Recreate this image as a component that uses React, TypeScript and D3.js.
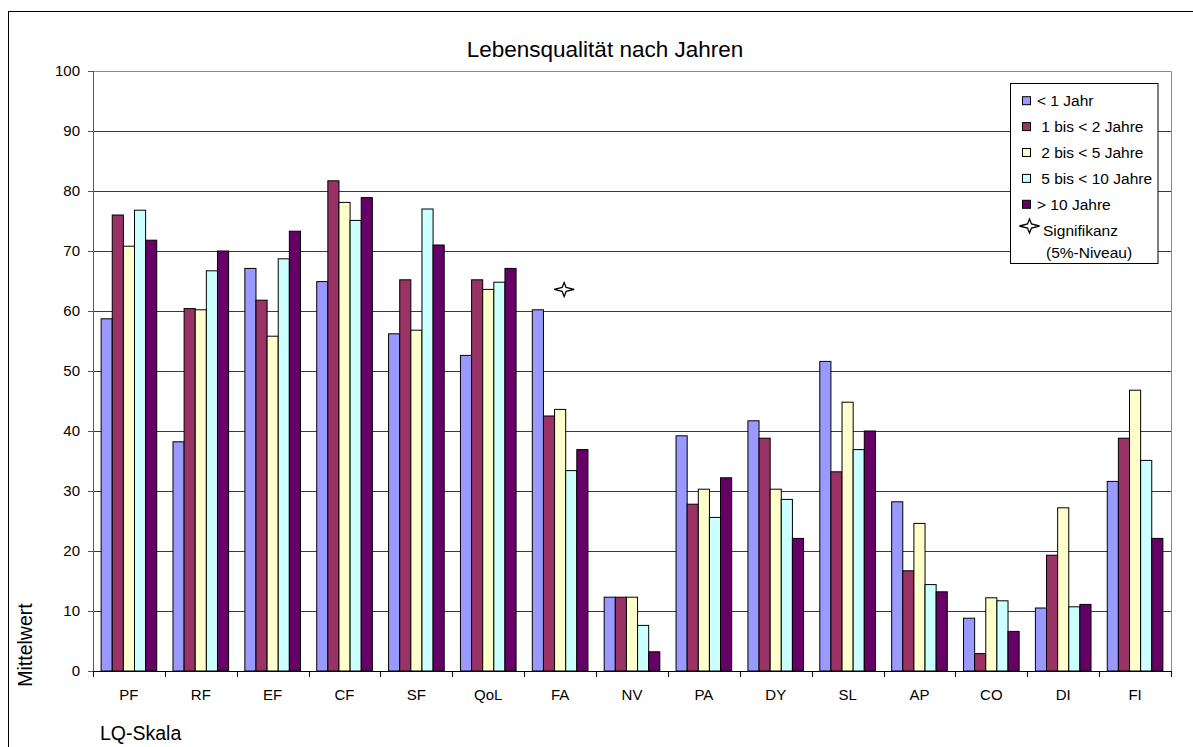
import React from "react";
import * as d3 from "d3";

// LQ scales (x categories)
const categories = ["PF", "RF", "EF", "CF", "SF", "QoL", "FA", "NV", "PA", "DY", "SL", "AP", "CO", "DI", "FI"];

// mean values per duration group
const lessThan1 = [58.7, 38.2, 67.1, 64.9, 56.2, 52.6, 60.2, 12.3, 39.2, 41.7, 51.6, 28.2, 8.8, 10.5, 31.6];
const from1to2 = [76.0, 60.4, 61.8, 81.7, 65.2, 65.2, 42.5, 12.3, 27.8, 38.8, 33.2, 16.7, 2.9, 19.3, 38.8];
const from2to5 = [70.8, 60.2, 55.8, 78.1, 56.8, 63.6, 43.6, 12.3, 30.3, 30.3, 44.8, 24.6, 12.2, 27.2, 46.8];
const from5to10 = [76.8, 66.7, 68.7, 75.1, 77.0, 64.8, 33.4, 7.6, 25.6, 28.6, 36.9, 14.4, 11.7, 10.7, 35.1];
const moreThan10 = [71.8, 70.0, 73.3, 78.9, 71.0, 67.1, 36.9, 3.2, 32.2, 22.1, 40.0, 13.2, 6.6, 11.1, 22.1];

const seriesNames = ["< 1 Jahr", " 1 bis < 2 Jahre", " 2 bis < 5 Jahre", " 5 bis < 10 Jahre", "> 10 Jahre"];
const seriesColors = ["#9999FF", "#993366", "#FFFFCC", "#CCFFFF", "#660066"];
const seriesValues = [lessThan1, from1to2, from2to5, from5to10, moreThan10];

// significance markers (5% level)
const sigCategories = ["FA"];
const sigValues = [63.6];

const yTicks = [0, 10, 20, 30, 40, 50, 60, 70, 80, 90, 100];

const W = 1193;
const H = 747;
const plot = { left: 93, right: 1171, top: 71, bottom: 671 };
const font = "'Liberation Sans', Arial, sans-serif";

// four pointed star, horizontal arms a bit longer
const starPath = "M-10,0 L-2,-2 L0,-7 L2,-2 L10,0 L2,2 L0,7 L-2,2 Z";

export default function App() {
  const x0 = d3.scaleBand<string>().domain(categories).range([plot.left, plot.right]).padding(0);
  const x1 = d3
    .scaleBand<number>()
    .domain(d3.range(seriesNames.length))
    .range([0, x0.bandwidth()])
    .paddingInner(0)
    .paddingOuter(0.73);
  const y = d3.scaleLinear().domain([0, 100]).range([plot.bottom, plot.top]);

  const boundaries = categories.map((c) => x0(c) as number).concat([plot.right]);

  return (
    <svg
      width={W}
      height={H}
      style={{ position: "absolute", left: 0, top: 0, display: "block", background: "#fff" }}
      fontFamily={font}
    >
      {/* chart frame (continues past the picture edge) */}
      <rect x={8.5} y={11.5} width={W + 20} height={H + 20} fill="#fff" stroke="#000" strokeWidth={1} />

      <text x={605} y={57} textAnchor="middle" fontSize={22.5} fill="#000">
        Lebensqualität nach Jahren
      </text>

      {/* gridlines */}
      {yTicks.slice(1, -1).map((t) => (
        <line
          key={"g" + t}
          x1={plot.left}
          x2={plot.right}
          y1={Math.round(y(t)) + 0.5}
          y2={Math.round(y(t)) + 0.5}
          stroke="#3a3a3a"
          strokeWidth={1}
        />
      ))}
      {/* plot area border top / right */}
      <path
        d={`M${plot.left},${plot.top + 0.5} H${plot.right + 0.5} V${plot.bottom}`}
        fill="none"
        stroke="#8c8c8c"
        strokeWidth={1}
      />

      {/* bars */}
      {seriesValues.map((vals, si) =>
        vals.map((v, ci) => {
          const bx = (x0(categories[ci]) as number) + (x1(si) as number);
          const by = y(v);
          return (
            <rect
              key={`b${si}-${ci}`}
              x={bx}
              y={by}
              width={x1.bandwidth()}
              height={plot.bottom - by}
              fill={seriesColors[si]}
              stroke="#000"
              strokeWidth={1}
            />
          );
        })
      )}

      {/* significance */}
      {sigCategories.map((c, i) => (
        <path
          key={"s" + c}
          d={starPath}
          transform={`translate(${(x0(c) as number) + x0.bandwidth() / 2 + 4},${y(sigValues[i])})`}
          fill="#fff"
          stroke="#000"
          strokeWidth={1.3}
        />
      ))}

      {/* y axis */}
      <line x1={plot.left + 0.5} x2={plot.left + 0.5} y1={plot.top} y2={plot.bottom} stroke="#555" strokeWidth={1} />
      {yTicks.map((t) => (
        <g key={"y" + t}>
          <line
            x1={plot.left - 5}
            x2={plot.left}
            y1={Math.round(y(t)) + 0.5}
            y2={Math.round(y(t)) + 0.5}
            stroke="#555"
          />
          <text x={80} y={y(t)} dy="0.36em" textAnchor="end" fontSize={15} fill="#000">
            {t}
          </text>
        </g>
      ))}

      {/* x axis */}
      <line x1={plot.left} x2={plot.right + 1} y1={plot.bottom + 0.5} y2={plot.bottom + 0.5} stroke="#000" />
      {boundaries.map((b, i) => (
        <line
          key={"xt" + i}
          x1={Math.round(b) + 0.5}
          x2={Math.round(b) + 0.5}
          y1={plot.bottom}
          y2={plot.bottom + 6}
          stroke="#000"
        />
      ))}
      {categories.map((c) => (
        <text
          key={"xl" + c}
          x={(x0(c) as number) + x0.bandwidth() / 2}
          y={700}
          textAnchor="middle"
          fontSize={15}
          fill="#000"
        >
          {c}
        </text>
      ))}

      <text x={100} y={740} fontSize={19.5} fill="#000">
        LQ-Skala
      </text>
      <text transform="translate(32,645) rotate(-90)" textAnchor="middle" fontSize={19.5} fill="#000">
        Mittelwert
      </text>

      {/* legend */}
      <rect x={1010.5} y={83.5} width={147.5} height={180} fill="#fff" stroke="#000" strokeWidth={1} />
      {seriesNames.map((n, i) => {
        const cy = 100.7 + i * 25.9;
        return (
          <g key={"l" + i}>
            <rect x={1022.5} y={cy - 4} width={8} height={8} fill={seriesColors[i]} stroke="#000" strokeWidth={1} />
            <text x={1037} y={cy} dy="0.36em" fontSize={15.5} fill="#000" style={{ whiteSpace: "pre" }}>
              {n}
            </text>
          </g>
        );
      })}
      <path d={starPath} transform="translate(1029.5,226)" fill="#fff" stroke="#000" strokeWidth={1.3} />
      <text x={1043} y={230.5} dy="0.36em" fontSize={15.5} fill="#000">
        Signifikanz
      </text>
      <text x={1046} y={252} dy="0.36em" fontSize={15.5} fill="#000">
        (5%-Niveau)
      </text>
    </svg>
  );
}
